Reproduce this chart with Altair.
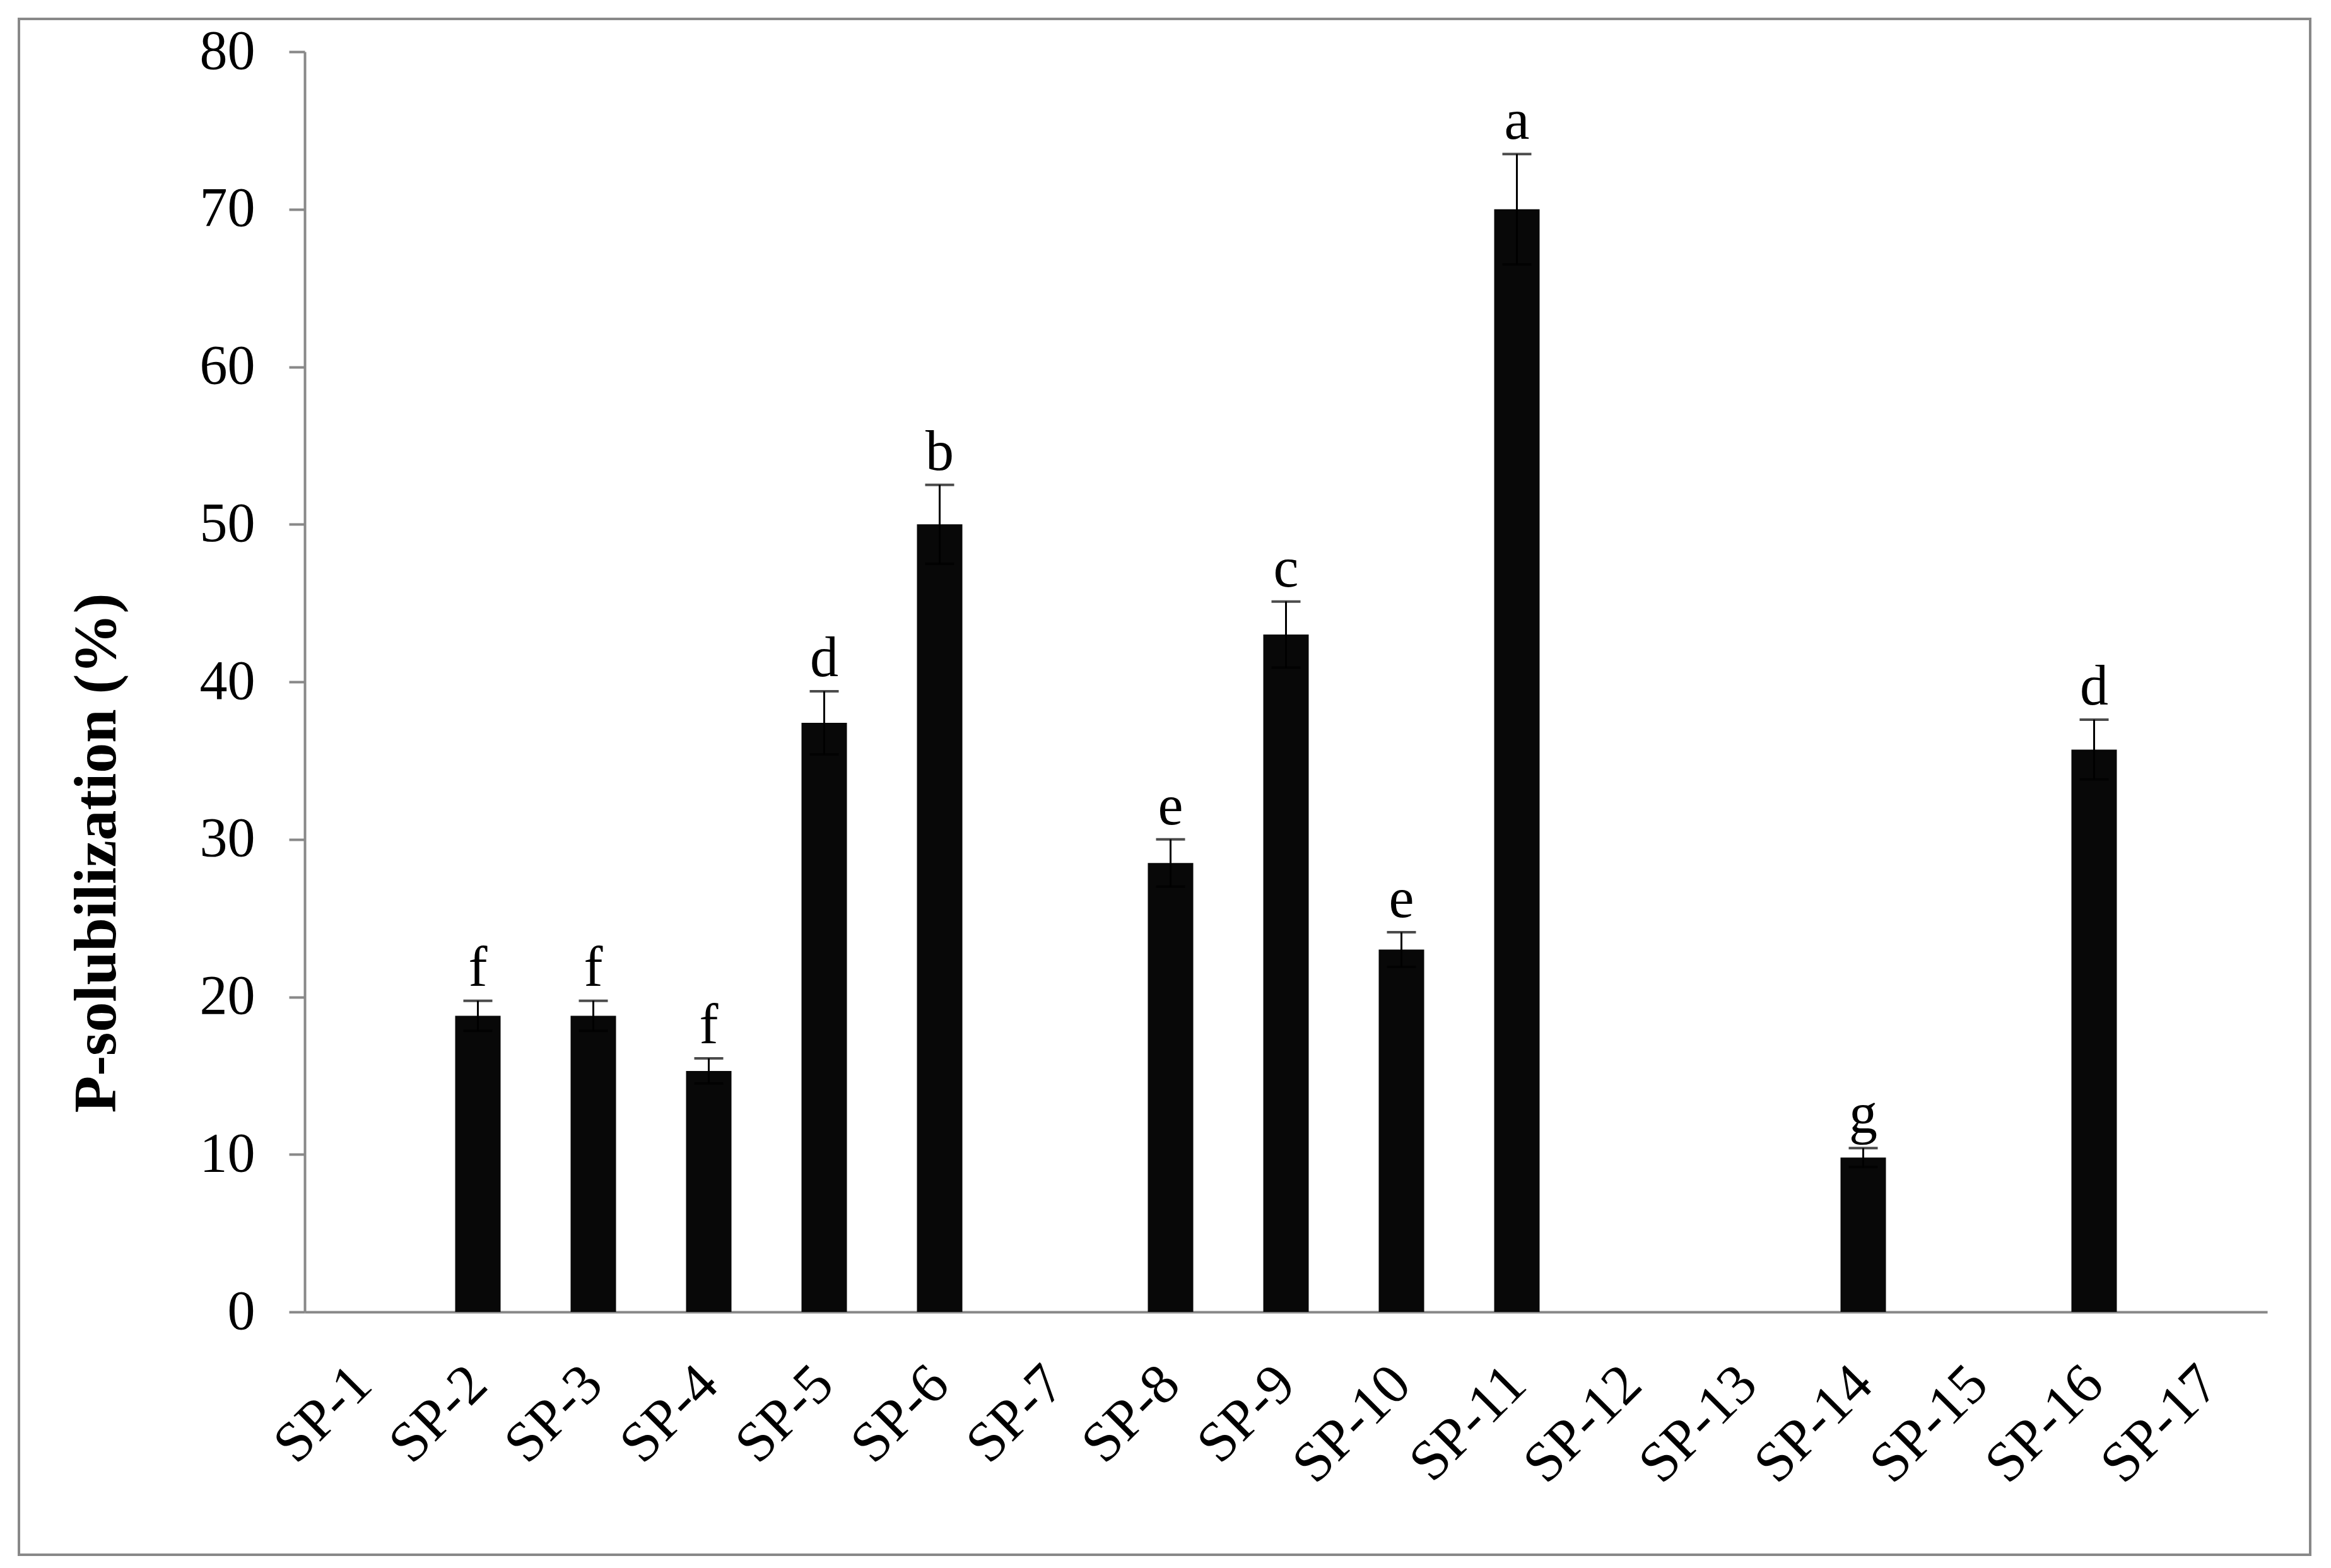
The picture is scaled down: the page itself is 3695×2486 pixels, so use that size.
import altair as alt
import pandas as pd

categories = ["SP-1", "SP-2", "SP-3", "SP-4", "SP-5", "SP-6", "SP-7", "SP-8", "SP-9",
              "SP-10", "SP-11", "SP-12", "SP-13", "SP-14", "SP-15", "SP-16", "SP-17"]
values = [None, 18.8, 18.8, 15.3, 37.4, 50.0, None, 28.5, 43.0,
          23.0, 70.0, None, None, 9.8, None, 35.7, None]
errors = [None, 0.95, 0.95, 0.8, 2.0, 2.5, None, 1.5, 2.1,
          1.1, 3.5, None, None, 0.6, None, 1.9, None]
letters = ["", "f", "f", "f", "d", "b", "", "e", "c",
           "e", "a", "", "", "g", "", "d", ""]
y_ticks = [0, 10, 20, 30, 40, 50, 60, 70, 80]

df = pd.DataFrame({"cat": categories, "value": values, "err": errors, "letter": letters})

FONT = "Liberation Serif"
W, H = 3111, 1998

x_enc = alt.X("cat:N", sort=categories,
              scale=alt.Scale(domain=categories, paddingInner=0, paddingOuter=0),
              axis=alt.Axis(title=None, labelAngle=-45, labelAlign="right",
                            labelBaseline="middle", labelPadding=100, ticks=False,
                            tickSize=0, domainColor="#888888", domainWidth=4,
                            labelFont=FONT, labelFontSize=90, labelColor="black",
                            labelLimit=0, labelOverlap=False))

y_scale = alt.Scale(domain=[0, 80], nice=False)
y_axis = alt.Axis(title="P-solubilization (%)", values=y_ticks, grid=False,
                  domainColor="#888888", domainWidth=4, tickColor="#888888",
                  tickWidth=4, tickSize=25, labelPadding=54,
                  labelFont=FONT, labelFontSize=88, labelColor="black",
                  titleFont=FONT, titleFontSize=96, titleFontWeight="bold",
                  titleColor="black", titleX=-301, titleY=1270,
                  titleAlign="center", titleBaseline="alphabetic", titleAngle=-90)

base = alt.Chart(df)

bars = base.mark_bar(color="#080808", size=72).encode(
    x=x_enc,
    y=alt.Y("value:Q", scale=y_scale, axis=y_axis),
)

err_base = base.transform_filter("isValid(datum.value)").transform_calculate(
    lo="datum.value - datum.err", hi="datum.value + datum.err")

rule = err_base.mark_rule(color="black", strokeWidth=3).encode(
    x=alt.X("cat:N", sort=categories),
    y=alt.Y("lo:Q", scale=y_scale),
    y2="hi:Q",
)
cap_hi = err_base.mark_tick(color="black", size=46, thickness=4).encode(
    x=alt.X("cat:N", sort=categories),
    y=alt.Y("hi:Q", scale=y_scale),
)
cap_lo = err_base.mark_tick(color="black", size=46, thickness=4).encode(
    x=alt.X("cat:N", sort=categories),
    y=alt.Y("lo:Q", scale=y_scale),
)
text = err_base.mark_text(font=FONT, fontSize=90, color="black",
                          baseline="alphabetic", dy=-24).encode(
    x=alt.X("cat:N", sort=categories),
    y=alt.Y("hi:Q", scale=y_scale),
    text="letter:N",
)

frame = alt.Chart(pd.DataFrame({"k": [0]})).mark_rect(
    fill=None, stroke="#888888", strokeWidth=4).encode(
    x=alt.value(-453), x2=alt.value(3179), y=alt.value(-52), y2=alt.value(2383))

chart = alt.layer(frame, bars, rule, cap_hi, cap_lo, text).properties(
    width=W, height=H,
    autosize=alt.AutoSizeParams(type="none"),
    padding={"left": 475, "top": 74, "right": 93, "bottom": 396},
    background="white",
).configure_view(stroke=None)

chart.save("out.html", embed_options={"renderer": "svg", "actions": False})
